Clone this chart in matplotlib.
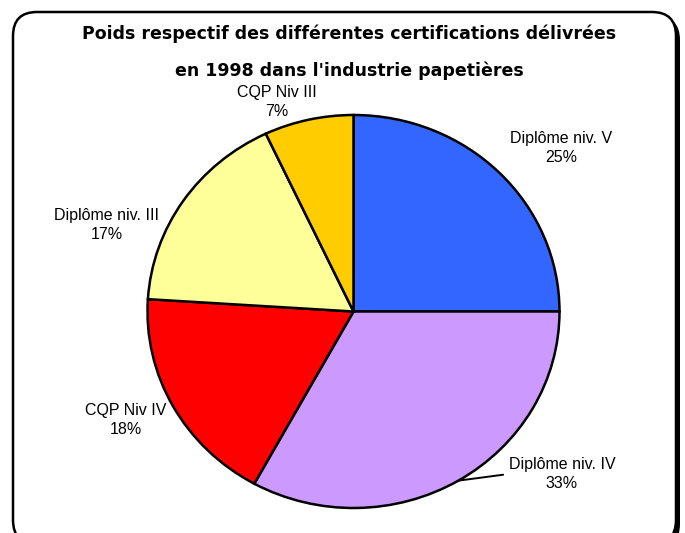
import matplotlib
matplotlib.use('Agg')
import numpy as np
import matplotlib.pyplot as plt
from matplotlib.patches import FancyBboxPatch

# Data (share of each certification, in %)
categories = ['Diplôme niv. V', 'Diplôme niv. IV', 'CQP Niv IV', 'Diplôme niv. III', 'CQP Niv III']
values = [25, 33, 18, 17, 7]
colors = ['#3366FF', '#CC99FF', '#FF0000', '#FFFF99', '#FFCC00']
title_lines = ["Poids respectif des différentes certifications délivrées",
               "en 1998 dans l'industrie papetières"]

# label centres in pixels (layout only)
label_pos = [(561, 148), (562, 474), (126, 420), (107, 225), (277, 102)]

W, H = 685, 533
fig = plt.figure(figsize=(W / 100, H / 100), dpi=100)

# background axes in pixel coordinates
bg = fig.add_axes([0, 0, 1, 1])
bg.set_xlim(0, W)
bg.set_ylim(H, 0)
bg.axis('off')

shadow = FancyBboxPatch((17, 16), 663, 532, boxstyle='round,pad=0,rounding_size=24',
                        facecolor='black', edgecolor='black', linewidth=0, zorder=1)
frame = FancyBboxPatch((13, 12), 663, 532, boxstyle='round,pad=0,rounding_size=24',
                       facecolor='white', edgecolor='black', linewidth=1.8, zorder=2)
bg.add_patch(shadow)
bg.add_patch(frame)

for i, line in enumerate(title_lines):
    bg.text(349, 34 + i * 37, line, ha='center', va='center', fontsize=12.5,
            fontweight='bold', family='DejaVu Sans', zorder=3)

# pie axes: centre (353.5, 311.5) px, radii 206 x 196.5 px
cx, cy, rx, ry = 353.5, 311.5, 206.0, 196.5
ax = fig.add_axes([0, 0, 1, 1])
ax.patch.set_alpha(0)
wedges, _ = ax.pie(values, colors=colors, startangle=90, counterclock=False,
                   wedgeprops=dict(edgecolor='black', linewidth=1.8))
ax.set_aspect('auto')
ax.set_xlim(-cx / rx, (W - cx) / rx)
ax.set_ylim((cy - H) / ry, cy / ry)
ax.axis('off')

for w, name, v, (px, py) in zip(wedges, categories, values, label_pos):
    txt = f'{name}\n{v}%'
    if name == 'Diplôme niv. IV':
        mid = np.deg2rad((w.theta1 + w.theta2) / 2)
        ax.annotate(txt, xy=(np.cos(mid), np.sin(mid)), xycoords='data',
                    xytext=(px, py), textcoords=bg.transData,
                    ha='center', va='center', fontsize=11.5, family='Liberation Sans',
                    linespacing=1.3,
                    arrowprops=dict(arrowstyle='-', color='black', lw=1.4,
                                    relpos=(0, 0.5), shrinkA=2, shrinkB=0))
    else:
        bg.text(px, py, txt, ha='center', va='center', fontsize=11.5,
                family='Liberation Sans', linespacing=1.3, zorder=3)

fig.savefig('out.png', dpi=100)
